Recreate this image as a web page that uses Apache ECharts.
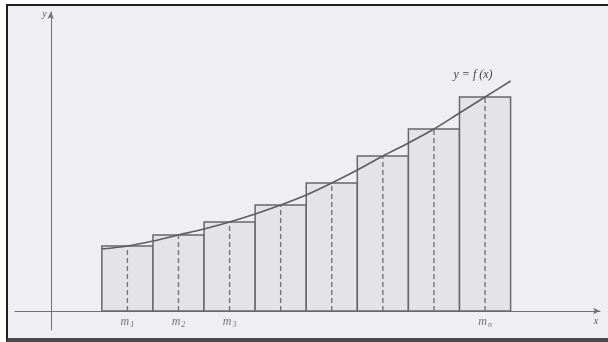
<!DOCTYPE html>
<html>
<head>
<meta charset="utf-8">
<script src="https://cdn.jsdelivr.net/npm/echarts@6/dist/echarts.min.js"></script>
<style>
  body { margin: 0; background: #fff; }
  #wrap { position: relative; width: 608px; height: 342px; }
  #frame {
    position: absolute; left: 6px; top: 4px; right: 0; bottom: 0;
    background: #efeef2;
    border-left: 2px solid #1e1e22;
    border-top: 2px solid #1e1e22;
    border-bottom: 4px solid #4a4a4e;
  }
  #chart { position: absolute; left: 0; top: 0; width: 608px; height: 342px; }
</style>
</head>
<body>
<div id="wrap">
  <div id="frame"></div>
  <div id="chart"></div>
</div>
<script>
  // rectangle edges and heights (midpoint rule)
  var edges = [1, 2, 3, 4, 5, 6, 7, 8, 9];
  var mids = [1.5, 2.5, 3.5, 4.5, 5.5, 6.5, 7.5, 8.5];
  var heights = [6.5, 7.6, 8.9, 10.6, 12.8, 15.5, 18.2, 21.4];

  var curveX = [1, 1.5, 2, 2.5, 3, 3.5, 4, 4.5, 5, 5.5, 6, 6.5, 7, 7.5, 8, 8.5, 9];
  var curveY = [6.2, 6.5, 7.0, 7.6, 8.2, 8.9, 9.7, 10.6, 11.6, 12.8, 14.1, 15.5, 16.8, 18.2, 19.8, 21.4, 23.0];

  // labels under the x axis
  var labelX = [1.5, 2.5, 3.5, 8.5];
  var labelSub = ['1', '2', '3', 'n'];
  var labelY = -1.1;

  var serif = 'Liberation Serif';
  var ink = '#68676c';

  var chart = echarts.init(document.getElementById('chart'));

  var barData = heights.map(function (h, i) {
    return [edges[i], edges[i + 1], h, mids[i]];
  });
  var curveData = curveX.map(function (x, i) {
    return [x, curveY[i]];
  });
  var labelData = labelX.map(function (x, i) {
    return { value: [x, labelY], sub: labelSub[i] };
  });

  chart.setOption({
    animation: false,
    grid: { left: 15, right: 8, top: 12, bottom: 12 },
    xAxis: {
      type: 'value', min: -0.7, max: 10.75,
      axisLine: { show: true, onZero: true, symbol: ['none', 'arrow'], symbolSize: [5, 7],
        lineStyle: { color: '#706f74', width: 1 } },
      axisTick: { show: false }, axisLabel: { show: false }, splitLine: { show: false },
      name: 'x', nameLocation: 'end', nameGap: -4,
      nameTextStyle: { fontFamily: serif, fontStyle: 'italic', fontSize: 10, color: '#555',
        align: 'center', verticalAlign: 'top', padding: [5, 0, 0, 0] }
    },
    yAxis: {
      type: 'value', min: -1.9, max: 29.9,
      axisLine: { show: true, onZero: true, symbol: ['none', 'arrow'], symbolSize: [5, 7],
        lineStyle: { color: '#706f74', width: 1 } },
      axisTick: { show: false }, axisLabel: { show: false }, splitLine: { show: false },
      name: 'y', nameLocation: 'end', nameGap: -2,
      nameTextStyle: { fontFamily: serif, fontStyle: 'italic', fontSize: 10, color: '#555',
        align: 'right', verticalAlign: 'middle', padding: [0, 4, 0, 0] }
    },
    series: [
      {
        type: 'custom',
        data: barData,
        z: 2,
        renderItem: function (params, api) {
          var p0 = api.coord([api.value(0), 0]);
          var p1 = api.coord([api.value(1), api.value(2)]);
          var q0 = api.coord([api.value(3), 0]);
          var q1 = api.coord([api.value(3), api.value(2)]);
          return {
            type: 'group',
            children: [
              { type: 'rect',
                shape: { x: p0[0], y: p1[1], width: p1[0] - p0[0], height: p0[1] - p1[1] },
                style: { fill: '#e4e3e7', stroke: ink, lineWidth: 1.5 } },
              { type: 'line',
                shape: { x1: q0[0], y1: q0[1], x2: q1[0], y2: q1[1] },
                style: { stroke: '#747378', lineWidth: 1.4, lineDash: [5, 3] } }
            ]
          };
        }
      },
      {
        type: 'line',
        data: curveData,
        smooth: 0.3,
        symbol: 'none',
        z: 3,
        lineStyle: { color: '#5e5d62', width: 1.6 },
        endLabel: {
          show: true, formatter: 'y = f (x)', align: 'right', offset: [-26, -6],
          fontFamily: serif, fontStyle: 'italic', fontSize: 12, color: '#444'
        }
      },
      {
        type: 'scatter',
        data: labelData,
        symbolSize: 0,
        z: 4,
        label: {
          show: true, position: 'inside',
          formatter: function (p) { return '{m|m}{s|' + p.data.sub + '}'; },
          rich: {
            m: { fontFamily: serif, fontStyle: 'italic', fontSize: 12, color: '#555', lineHeight: 14 },
            s: { fontFamily: serif, fontStyle: 'italic', fontSize: 8, color: '#555', lineHeight: 14, padding: [5, 0, 0, 1] }
          }
        }
      }
    ]
  });
</script>
</body>
</html>
